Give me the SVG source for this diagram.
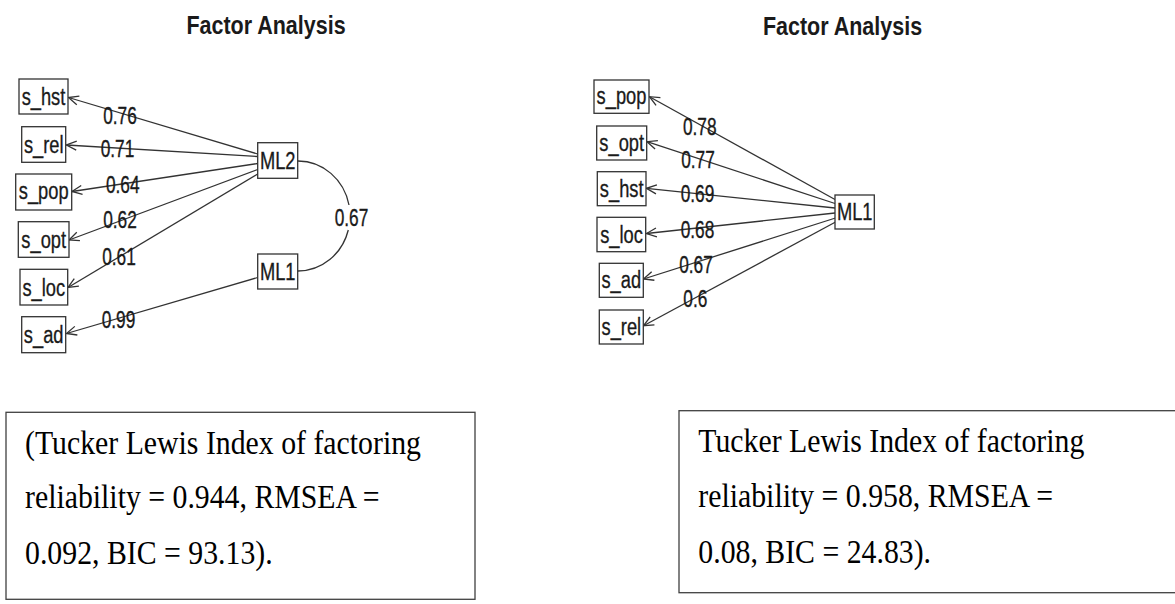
<svg xmlns="http://www.w3.org/2000/svg" width="1175" height="604" viewBox="0 0 1175 604">
<style>
.bg{fill:#ffffff}
.node rect{fill:#ffffff;stroke:#333333;stroke-width:1.3}
.node text{font-family:"Liberation Sans",Arial,sans-serif;font-size:18.3px;fill:#1a1a1a;text-anchor:middle;stroke:#1a1a1a;stroke-width:0.25}
.title{font-family:"Liberation Sans",Arial,sans-serif;font-size:21.5px;font-weight:bold;fill:#1a1a1a;text-anchor:middle}
.edge{stroke:#333333;stroke-width:1.3;fill:none}
.lbl{font-family:"Liberation Sans",Arial,sans-serif;font-size:17.3px;fill:#1a1a1a;text-anchor:middle;stroke:#1a1a1a;stroke-width:0.25}
.box rect{fill:#ffffff;stroke:#404040;stroke-width:1.3}
.box text{font-family:"Liberation Serif","Times New Roman",serif;font-size:29.8px;fill:#000000}
</style>
<defs>
<marker id="arr" viewBox="-1 -6 12 12" markerWidth="12" markerHeight="12" refX="10" refY="0" orient="auto" markerUnits="userSpaceOnUse">
<path d="M0,-4.5 L10,0 L0,4.5" fill="none" stroke="#333333" stroke-width="1.3"/>
</marker>
</defs>
<rect class="bg" x="0" y="0" width="1175" height="604"/>

<text class="title" transform="translate(266,34.3) scale(1,1.22)">Factor Analysis</text>
<text class="title" transform="translate(842.5,34.8) scale(1,1.22)">Factor Analysis</text>

<g id="connectors">
<line class="edge" x1="257.7" y1="154" x2="68.5" y2="97.5" marker-end="url(#arr)"/>
<line class="edge" x1="257.7" y1="156.5" x2="66.5" y2="145" marker-end="url(#arr)"/>
<line class="edge" x1="257.7" y1="163.5" x2="72" y2="191.5" marker-end="url(#arr)"/>
<line class="edge" x1="259" y1="169" x2="69" y2="240" marker-end="url(#arr)"/>
<line class="edge" x1="261" y1="172" x2="68" y2="287.5" marker-end="url(#arr)"/>
<line class="edge" x1="257.7" y1="277.5" x2="66.5" y2="333.5" marker-end="url(#arr)"/>
<path class="edge" d="M298,161 A52,55 0 0 1 349,205"/>
<path class="edge" d="M348.3,230 A52,55 0 0 1 298,271"/>
<line class="edge" x1="835" y1="199.5" x2="649.5" y2="96.7" marker-end="url(#arr)"/>
<line class="edge" x1="835" y1="203.5" x2="647" y2="141.7" marker-end="url(#arr)"/>
<line class="edge" x1="835" y1="208" x2="646.5" y2="188.3" marker-end="url(#arr)"/>
<line class="edge" x1="835" y1="213" x2="646.5" y2="233.5" marker-end="url(#arr)"/>
<line class="edge" x1="835.5" y1="218" x2="643.5" y2="279" marker-end="url(#arr)"/>
<line class="edge" x1="836.5" y1="221.5" x2="643.5" y2="325.7" marker-end="url(#arr)"/>
<text class="lbl" transform="translate(120,124) scale(1,1.38)">0.76</text>
<text class="lbl" transform="translate(117.5,156.5) scale(1,1.38)">0.71</text>
<text class="lbl" transform="translate(122.7,192.5) scale(1,1.38)">0.64</text>
<text class="lbl" transform="translate(120,228) scale(1,1.38)">0.62</text>
<text class="lbl" transform="translate(119,265) scale(1,1.38)">0.61</text>
<text class="lbl" transform="translate(118.5,327.5) scale(1,1.38)">0.99</text>
<text class="lbl" transform="translate(351.5,226) scale(1,1.38)">0.67</text>
<text class="lbl" transform="translate(699.7,135) scale(1,1.38)">0.78</text>
<text class="lbl" transform="translate(698,168.3) scale(1,1.38)">0.77</text>
<text class="lbl" transform="translate(697.5,202) scale(1,1.38)">0.69</text>
<text class="lbl" transform="translate(697.5,238) scale(1,1.38)">0.68</text>
<text class="lbl" transform="translate(696,272.5) scale(1,1.38)">0.67</text>
<text class="lbl" transform="translate(695.3,306.5) scale(1,1.38)">0.6</text>
</g>

<g id="L_s_hst" class="node"><rect x="19" y="79" width="49" height="35"/><text transform="translate(43.5,105) scale(1,1.33)">s_hst</text></g>
<g id="L_s_rel" class="node"><rect x="21.7" y="126.7" width="44" height="35.6"/><text transform="translate(43.7,153) scale(1,1.33)">s_rel</text></g>
<g id="L_s_pop" class="node"><rect x="15.7" y="174" width="56" height="36"/><text transform="translate(43.7,199) scale(1,1.33)">s_pop</text></g>
<g id="L_s_opt" class="node"><rect x="18.3" y="221.7" width="50.7" height="35.6"/><text transform="translate(43.7,247.5) scale(1,1.33)">s_opt</text></g>
<g id="L_s_loc" class="node"><rect x="20" y="269.3" width="47.7" height="35.7"/><text transform="translate(43.8,295.5) scale(1,1.33)">s_loc</text></g>
<g id="L_s_ad" class="node"><rect x="21.7" y="316.7" width="44" height="36"/><text transform="translate(43.7,343) scale(1,1.33)">s_ad</text></g>
<g id="L_ML2" class="node"><rect x="257.7" y="142.7" width="40" height="35.6"/><text transform="translate(277.7,169) scale(1,1.33)">ML2</text></g>
<g id="L_ML1" class="node"><rect x="257.7" y="254" width="40" height="35"/><text transform="translate(277.7,280) scale(1,1.33)">ML1</text></g>

<g id="R_s_pop" class="node"><rect x="594" y="80" width="55" height="33.3"/><text transform="translate(621.5,104) scale(1,1.33)">s_pop</text></g>
<g id="R_s_opt" class="node"><rect x="596.7" y="126" width="50" height="34"/><text transform="translate(621.7,151) scale(1,1.33)">s_opt</text></g>
<g id="R_s_hst" class="node"><rect x="597.3" y="171.7" width="48.7" height="34"/><text transform="translate(621.7,196.7) scale(1,1.33)">s_hst</text></g>
<g id="R_s_loc" class="node"><rect x="597" y="217.3" width="48.7" height="34.4"/><text transform="translate(621.5,242.5) scale(1,1.33)">s_loc</text></g>
<g id="R_s_ad" class="node"><rect x="599.3" y="263.3" width="44" height="34"/><text transform="translate(621.3,288.3) scale(1,1.33)">s_ad</text></g>
<g id="R_s_rel" class="node"><rect x="599.3" y="310" width="44" height="34"/><text transform="translate(621.3,335) scale(1,1.33)">s_rel</text></g>
<g id="R_ML1" class="node"><rect x="835" y="195" width="39.3" height="34"/><text transform="translate(854.7,220) scale(1,1.33)">ML1</text></g>

<g id="left_note" class="box">
<rect x="6" y="412.3" width="469" height="187"/>
<text transform="translate(25,453.5) scale(1,1.12)">(Tucker Lewis Index of factoring</text>
<text transform="translate(25,508) scale(1,1.12)">reliability = 0.944, RMSEA =</text>
<text transform="translate(25,564) scale(1,1.12)">0.092, BIC = 93.13).</text>
</g>
<g id="right_note" class="box">
<rect x="679" y="410.7" width="510" height="182"/>
<text transform="translate(698.3,451.7) scale(1,1.12)">Tucker Lewis Index of factoring</text>
<text transform="translate(698.3,506.7) scale(1,1.12)">reliability = 0.958, RMSEA =</text>
<text transform="translate(698.3,562.7) scale(1,1.12)">0.08, BIC = 24.83).</text>
</g>
</svg>
